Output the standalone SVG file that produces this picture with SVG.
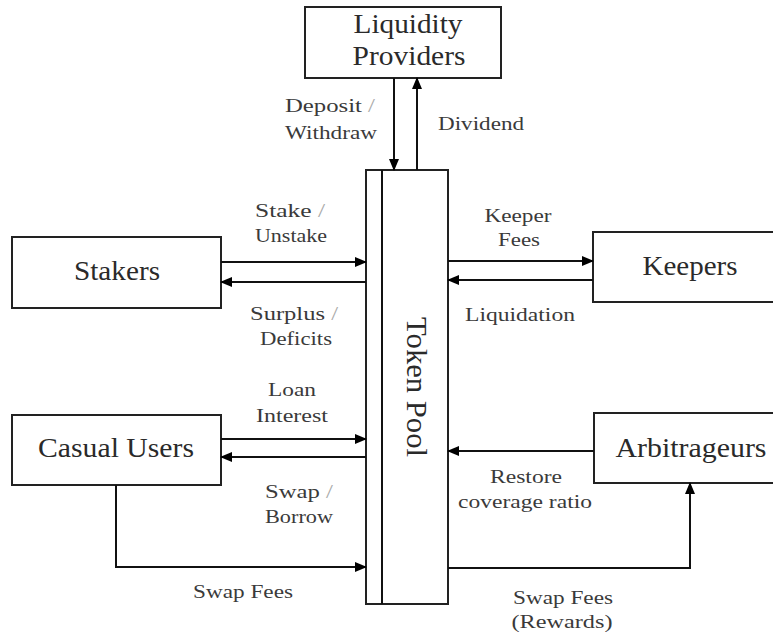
<svg xmlns="http://www.w3.org/2000/svg" width="773" height="639" viewBox="0 0 773 639" font-family="'Liberation Serif', 'Times New Roman', 'DejaVu Serif', serif">
<defs>
<marker id="ah" markerUnits="userSpaceOnUse" markerWidth="12" markerHeight="10" refX="11" refY="5" orient="auto">
<path d="M0,0 L12,5 L0,10 z" fill="#000"/>
</marker>
<style>
.box{fill:#fff;stroke:#222;stroke-width:2}
.node{font-size:27px;fill:#2a2a2a;text-anchor:middle}
.lbl{font-size:19.5px;fill:#3a3a3a;text-anchor:middle}
.sl{fill:#aaa}
.con{fill:none;stroke:#111;stroke-width:2;marker-end:url(#ah)}
.plain{fill:none;stroke:#111;stroke-width:2}
</style>
</defs>
<rect width="773" height="639" fill="#fff"/>

<g id="liquidity-providers">
<rect class="box" x="305" y="7" width="196" height="71"/>
<text class="node" x="408" y="33" textLength="109" lengthAdjust="spacingAndGlyphs">Liquidity</text>
<text class="node" x="409" y="65" textLength="113" lengthAdjust="spacingAndGlyphs">Providers</text>
</g>

<g id="token-pool">
<rect class="box" x="366" y="170" width="82" height="434"/>
<line class="plain" x1="382" y1="170" x2="382" y2="604"/>
<text class="node" transform="translate(407,387) rotate(90)" x="0" y="0" style="font-size:29px" textLength="140" lengthAdjust="spacingAndGlyphs">Token Pool</text>
</g>

<g id="stakers">
<rect class="box" x="12" y="237" width="209" height="71"/>
<text class="node" x="117" y="280" textLength="86" lengthAdjust="spacingAndGlyphs">Stakers</text>
</g>

<g id="casual-users">
<rect class="box" x="12" y="415" width="209" height="70"/>
<text class="node" x="116" y="457" textLength="156" lengthAdjust="spacingAndGlyphs">Casual Users</text>
</g>

<g id="keepers">
<rect class="box" x="593" y="232" width="184" height="70"/>
<text class="node" x="690" y="275" textLength="95" lengthAdjust="spacingAndGlyphs">Keepers</text>
</g>

<g id="arbitrageurs">
<rect class="box" x="594" y="413" width="183" height="70"/>
<text class="node" x="691" y="457" textLength="151" lengthAdjust="spacingAndGlyphs">Arbitrageurs</text>
</g>

<g id="connectors">
<line class="con" x1="394" y1="78" x2="394" y2="170"/>
<line class="con" x1="417" y1="170" x2="417" y2="78"/>
<line class="con" x1="221" y1="262" x2="366" y2="262"/>
<line class="con" x1="366" y1="282" x2="221" y2="282"/>
<line class="con" x1="448" y1="261" x2="593" y2="261"/>
<line class="con" x1="593" y1="280" x2="448" y2="280"/>
<line class="con" x1="221" y1="439" x2="366" y2="439"/>
<line class="con" x1="366" y1="457" x2="221" y2="457"/>
<path class="con" d="M116,485 V567 H366"/>
<line class="con" x1="594" y1="451" x2="448" y2="451"/>
<path class="con" d="M448,568 H690 V483"/>
</g>

<g id="labels">
<text class="lbl" x="330" y="112" textLength="90" lengthAdjust="spacingAndGlyphs">Deposit <tspan class="sl">/</tspan></text>
<text class="lbl" x="331" y="139" textLength="92" lengthAdjust="spacingAndGlyphs">Withdraw</text>
<text class="lbl" x="481" y="130" textLength="86" lengthAdjust="spacingAndGlyphs">Dividend</text>
<text class="lbl" x="290" y="217" textLength="70" lengthAdjust="spacingAndGlyphs">Stake <tspan class="sl">/</tspan></text>
<text class="lbl" x="291" y="242" textLength="72" lengthAdjust="spacingAndGlyphs">Unstake</text>
<text class="lbl" x="294" y="320" textLength="88" lengthAdjust="spacingAndGlyphs">Surplus <tspan class="sl">/</tspan></text>
<text class="lbl" x="296" y="345" textLength="72" lengthAdjust="spacingAndGlyphs">Deficits</text>
<text class="lbl" x="518" y="222" textLength="67" lengthAdjust="spacingAndGlyphs">Keeper</text>
<text class="lbl" x="519" y="246" textLength="42" lengthAdjust="spacingAndGlyphs">Fees</text>
<text class="lbl" x="520" y="321" textLength="110" lengthAdjust="spacingAndGlyphs">Liquidation</text>
<text class="lbl" x="292" y="396" textLength="48" lengthAdjust="spacingAndGlyphs">Loan</text>
<text class="lbl" x="292" y="422" textLength="72" lengthAdjust="spacingAndGlyphs">Interest</text>
<text class="lbl" x="299" y="498" textLength="68" lengthAdjust="spacingAndGlyphs">Swap <tspan class="sl">/</tspan></text>
<text class="lbl" x="299" y="523" textLength="68" lengthAdjust="spacingAndGlyphs">Borrow</text>
<text class="lbl" x="243" y="598" textLength="100" lengthAdjust="spacingAndGlyphs">Swap Fees</text>
<text class="lbl" x="526" y="483" textLength="72" lengthAdjust="spacingAndGlyphs">Restore</text>
<text class="lbl" x="525" y="508" textLength="134" lengthAdjust="spacingAndGlyphs">coverage ratio</text>
<text class="lbl" x="563" y="604" textLength="100" lengthAdjust="spacingAndGlyphs">Swap Fees</text>
<text class="lbl" x="562" y="628" textLength="101" lengthAdjust="spacingAndGlyphs">(Rewards)</text>
</g>
</svg>
